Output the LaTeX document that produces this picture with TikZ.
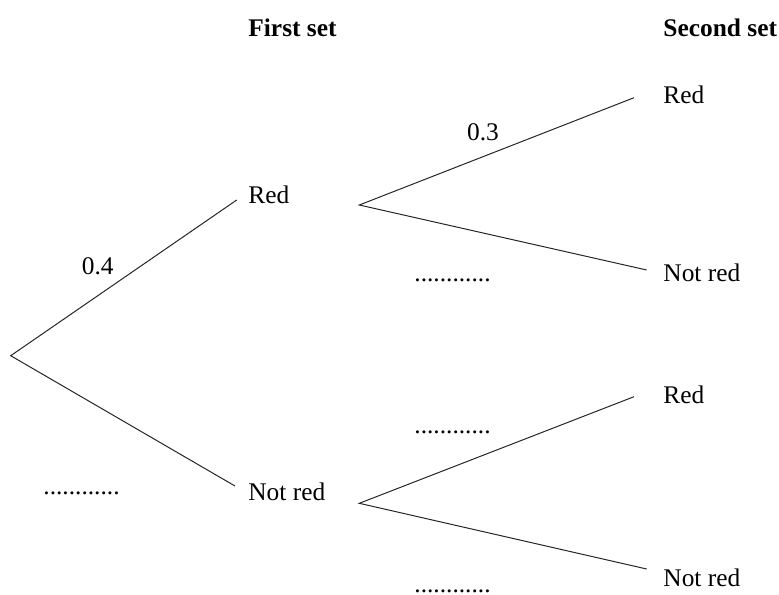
\documentclass[tikz,border=0pt]{standalone}
\usepackage{fontspec}
\setmainfont{Liberation Serif}
\begin{document}
\begin{tikzpicture}[x=0.5pt,y=-0.5pt,
  lbl/.style={inner sep=0pt,anchor=west,font=\fontsize{12.7}{15}\selectfont},
  hdr/.style={inner sep=0pt,anchor=west,font=\fontsize{12.7}{15}\selectfont\bfseries},
  dotsl/.style={inner sep=0pt,anchor=base west,font=\fontsize{12.7}{15}\selectfont},
  prob/.style={inner sep=0pt,font=\fontsize{12.7}{15}\selectfont},
  branch/.style={line width=0.5pt,black!85}]
\useasboundingbox (0,0) rectangle (779,594);
% headers
\node[hdr] (h1) at (248,28) {First set};
\node[hdr] (h2) at (663,28) {Second set};
% branch points
\coordinate (root) at (10.7,355.7);
\coordinate (a1) at (236.7,200);
\coordinate (a2) at (235,486);
\coordinate (b) at (359.3,205);
\coordinate (c) at (359.3,503.3);
\coordinate (b1) at (634,97.7);
\coordinate (b2) at (646.7,270);
\coordinate (c1) at (634,396.7);
\coordinate (c2) at (646.7,569);
% labels
\node[lbl] (red1) at (248,195) {Red};
\node[lbl] (nred1) at (248,492) {Not red};
\node[lbl] (red2) at (663,95) {Red};
\node[lbl] (nred2) at (663,272.7) {Not red};
\node[lbl] (red3) at (663,395) {Red};
\node[lbl] (nred3) at (663,578) {Not red};
\node[prob] (p04) at (97.7,266) {0.4};
\node[prob] (p03) at (483,132.7) {0.3};
\node[dotsl] (d1) at (43,494) {............};
\node[dotsl] (d2) at (414,281) {............};
\node[dotsl] (d3) at (414,433.5) {............};
\node[dotsl] (d4) at (414,592) {............};
% branches
\draw[branch] (a1) -- (root) -- (a2);
\draw[branch] (b1) -- (b) -- (b2);
\draw[branch] (c1) -- (c) -- (c2);
\end{tikzpicture}
\end{document}
